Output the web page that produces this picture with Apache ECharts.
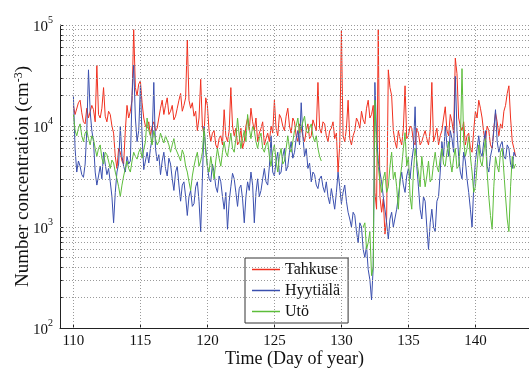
<!DOCTYPE html>
<html>
<head>
<meta charset="utf-8">
<script src="https://cdn.jsdelivr.net/npm/echarts@6/dist/echarts.min.js"></script>
<style>html,body{margin:0;padding:0;background:#fff}#c{width:529px;height:368px}</style>
</head>
<body>
<div id="c"></div>
<script>
// time grid: day of year, 1/8-day sampling
const dayStart = 110;
const dayStep = 0.125;
const xTicks = [110, 115, 120, 125, 130, 135, 140];
const seriesNames = ['Tahkuse', 'Hyytiälä', 'Utö'];

const tahkuse = [
16000,13000,12500,17000,18000,13500,11000,10500,15000,12000,11500,16000,14500,11000,40000,13000,
12000,15000,24000,12500,11000,14000,13000,10000,8500,5000,3800,6000,5500,4500,4200,9000,
16000,12000,14000,18000,90000,24000,20000,26000,28000,17000,12000,10000,9500,11000,8000,10000,
11000,9000,9500,12000,15000,18000,13000,16000,19000,13000,14000,16000,11500,12500,15000,18000,
21000,14000,16000,19000,71000,18000,15000,17000,12500,14000,9000,12000,29000,10000,8000,19000,
16000,9000,7000,8500,9000,6500,6000,7500,8000,6500,14500,8000,7000,9000,24000,10000,
8000,9500,6500,7000,9500,6000,7000,10000,12000,9000,15000,11000,9000,12000,7000,8500,
9500,11000,6500,7500,8500,7000,10000,8500,18000,9500,8000,13000,12000,10000,9000,12500,
15000,10000,8500,12000,11000,8000,7000,10500,9500,8000,7000,9000,10500,7500,8000,11500,
11000,9000,27000,9500,8500,11000,10500,8000,7000,9000,9500,11000,7500,8500,3500,6500,
88000,8000,7000,9500,18000,7500,6500,8000,9000,12000,11000,9500,14000,11500,10500,15000,
18000,12000,13000,16000,2200,1500,90000,2000,1400,1900,850,1200,36000,24000,20000,9000,
7000,6000,9000,7500,6500,9500,25000,7500,8000,10000,9500,7000,6500,9500,8500,6500,
7000,8000,9000,7500,6500,9000,27000,7000,8000,9500,6500,8000,9000,12000,15500,9000,
8000,13000,11000,8500,47000,33000,12000,10000,9000,11000,6500,8000,8500,6000,5500,9000,
14000,12000,18000,15000,12000,8500,7000,10000,9000,6500,6000,9500,13500,11000,8000,10500,
9500,14000,16000,21000,25000,12000,7000,6000,5000];

const hyytiala = [
20000,6000,3500,4500,4000,3300,3100,4200,9000,36000,14000,9000,7000,3500,2600,3200,
4000,3000,5500,4200,3300,3800,2800,2000,1100,2200,3500,4200,9900,5000,4000,3500,
5000,4200,4500,20000,40000,12000,7000,9000,25000,8000,3700,4500,5500,4300,6000,7500,
27000,6000,4500,5200,3300,4500,5500,3800,3200,4800,4200,3000,2300,3500,4000,2600,
1800,2600,2800,2000,1300,2000,2300,1600,1700,2500,2800,1800,900,3000,10000,6000,
4000,3000,2800,4200,3500,2500,2200,3200,2800,2000,1500,2200,950,1800,2500,3400,
3000,2200,1600,2400,2600,1900,1100,2000,2800,2300,3500,2600,1100,2200,3000,2000,
2300,3000,3800,2800,2600,4000,8000,3500,3200,4500,5500,3300,3500,5000,6000,3600,
4000,5500,7000,4800,5500,7500,9000,6500,17000,8000,5000,6000,3800,4300,2800,3500,
3300,2600,2400,3000,3200,2500,2200,2800,2000,1700,2400,1900,1500,2200,3500,2500,
1700,2200,2600,1800,1400,1200,1000,1400,1300,900,700,1100,1000,600,500,650,
380,300,190,400,27000,8000,4500,3500,2800,2000,1500,1100,760,1200,1400,1000,
1000,1500,2000,2800,3500,2600,2200,3200,3800,3000,4500,6000,15500,4000,2500,1500,
1200,2000,1800,1000,600,1100,1500,1000,900,1800,2000,3500,7000,5000,10000,6500,
5000,9000,7500,5500,31000,9000,5000,3500,3000,5500,4500,3000,2200,1500,1000,2500,
4500,6000,8000,5500,5000,7000,9000,4000,3500,5000,6000,9000,14500,7000,5500,6500,
7000,5000,4700,6500,6000,4200,3800,5500,5000];

const uto = [
13000,9000,8000,9500,10500,8000,7000,8500,9000,7500,6500,8000,7400,6000,5000,6000,
6500,4800,4200,5500,5200,4500,3800,4600,4300,3500,3000,2500,2000,2600,3200,3800,
4500,3800,3500,4500,5500,5000,4700,5500,6000,4800,5000,7000,12000,9000,8000,6500,
9000,7500,6500,7000,8500,7500,6800,8000,8000,6500,5500,6500,7500,6000,6000,5000,
4500,5800,5200,4000,3500,2800,2300,3200,4000,4800,5500,4000,4500,5500,9500,5500,
4000,3500,5000,3800,3000,4500,6000,4800,4000,5500,7000,5500,5000,6500,8500,6000,
5500,7500,12000,8000,6000,7500,9000,7000,13000,9500,7500,10000,9000,7000,6000,7500,
8500,6000,5500,6500,7000,5000,4000,5500,6500,4500,3500,5000,6000,4200,4500,6000,
8000,6000,5500,7000,9000,10000,12000,8500,9500,11000,12500,9000,8500,9500,10500,8000,
7000,8000,6000,5000,4500,null,null,null,null,null,null,null,null,null,null,null,
null,null,null,null,null,null,null,null,null,null,null,null,null,1000,1100,600,
700,900,330,400,18000,6000,4000,2800,2200,3000,3500,2200,2500,4000,5500,3000,
3500,2500,1500,3000,4000,6000,8600,4000,5000,2000,1500,3500,6000,4500,3500,2500,
5000,3500,2500,3200,4500,2800,3000,4200,5500,4000,3500,4800,6000,4200,4000,5500,
7000,4500,3500,4800,6000,3800,4000,6500,37000,7000,5000,6000,8000,5000,3500,2200,
2500,4000,6500,4500,4000,5500,7500,3500,2000,1300,950,2500,5000,4000,3500,5500,
6000,3500,2000,1200,900,2500,5000,3800,4200];

const days = tahkuse.map((_, i) => dayStart + i * dayStep);
const pair = arr => days.map((d, i) => [d, arr[i]]);

const minorY = [];
[100, 1000, 10000].forEach(b => { for (let k = 2; k <= 9; k++) minorY.push(b * k); });
const gridY = minorY.concat([1000, 10000, 100000]);

const serif = 'Liberation Serif';
const colors = ['#f0301f', '#3a4fae', '#5cbd3a'];

const gridStyle = { type: [1, 2], color: '#9a9a9a', width: 1 };
const markLines = []
  .concat(gridY.map(v => ({ yAxis: v, lineStyle: gridStyle })))
  .concat(xTicks.map(v => ({ xAxis: v, lineStyle: gridStyle })));
const minorTicks = minorY.map(v => [
  { coord: [109, v], lineStyle: { type: 'solid', color: '#222', width: 1 } },
  { coord: [109.2, v] }
]);

const chart = echarts.init(document.getElementById('c'));
chart.setOption({
  animation: false,
  color: colors,
  textStyle: { fontFamily: serif },
  grid: { left: 60, right: 0, top: 25, bottom: 40, outerBoundsMode: 'none', containLabel: false },
  legend: {
    orient: 'vertical', left: 245, top: 258,
    backgroundColor: '#fff', borderColor: '#333', borderWidth: 1,
    padding: [1, 8, 1, 7], itemWidth: 28, itemHeight: 1.5, itemGap: 0, icon: 'rect',
    textStyle: { fontFamily: serif, fontSize: 16, color: '#111', lineHeight: 21 },
    data: seriesNames
  },
  xAxis: {
    type: 'value', min: 109, max: 144,
    name: 'Time (Day of year)', nameLocation: 'middle', nameGap: 22, nameMoveOverlap: false,
    nameTextStyle: { fontFamily: serif, fontSize: 18, color: '#111' },
    axisLine: { lineStyle: { color: '#222', width: 1 } },
    axisTick: { inside: true, length: 4, lineStyle: { color: '#222' }, customValues: xTicks },
    axisLabel: { fontFamily: serif, fontSize: 15, color: '#111', margin: 6, customValues: xTicks },
    splitLine: { show: false }
  },
  yAxis: {
    type: 'log', logBase: 10, min: 100, max: 100000,
    name: 'Number concentration (cm{s|-3})', nameLocation: 'middle', nameGap: 27, nameRotate: 90,
    nameMoveOverlap: false,
    nameTextStyle: {
      fontFamily: serif, fontSize: 19, color: '#111', lineHeight: 20,
      rich: { s: { fontFamily: serif, fontSize: 12, color: '#111', verticalAlign: 'top', lineHeight: 20 } }
    },
    axisLine: { show: true, lineStyle: { color: '#222', width: 1 } },
    axisTick: { inside: true, length: 4, lineStyle: { color: '#222' } },
    axisLabel: {
      margin: 7, color: '#111',
      formatter: v => '{b|10}{s|' + Math.round(Math.log10(v)) + '}',
      rich: {
        b: { fontFamily: serif, fontSize: 15, color: '#111', lineHeight: 20, verticalAlign: 'bottom' },
        s: { fontFamily: serif, fontSize: 10, color: '#111', verticalAlign: 'top', lineHeight: 20 }
      }
    },
    splitLine: { show: false }
  },
  series: [
    {
      name: '__grid', type: 'line', data: [], z: 1, silent: true,
      markLine: {
        silent: true, symbol: ['none', 'none'], label: { show: false },
        emphasis: { disabled: true }, animation: false,
        data: markLines.concat(minorTicks)
      }
    },
    { name: seriesNames[0], type: 'line', data: pair(tahkuse), showSymbol: false, symbol: 'none',
      lineStyle: { width: 1, color: colors[0] }, itemStyle: { color: colors[0] }, z: 2 },
    { name: seriesNames[1], type: 'line', data: pair(hyytiala), showSymbol: false, symbol: 'none',
      lineStyle: { width: 1, color: colors[1] }, itemStyle: { color: colors[1] }, z: 3 },
    { name: seriesNames[2], type: 'line', data: pair(uto), showSymbol: false, symbol: 'none', connectNulls: false,
      lineStyle: { width: 1, color: colors[2] }, itemStyle: { color: colors[2] }, z: 4 }
  ]
});
</script>
</body>
</html>
